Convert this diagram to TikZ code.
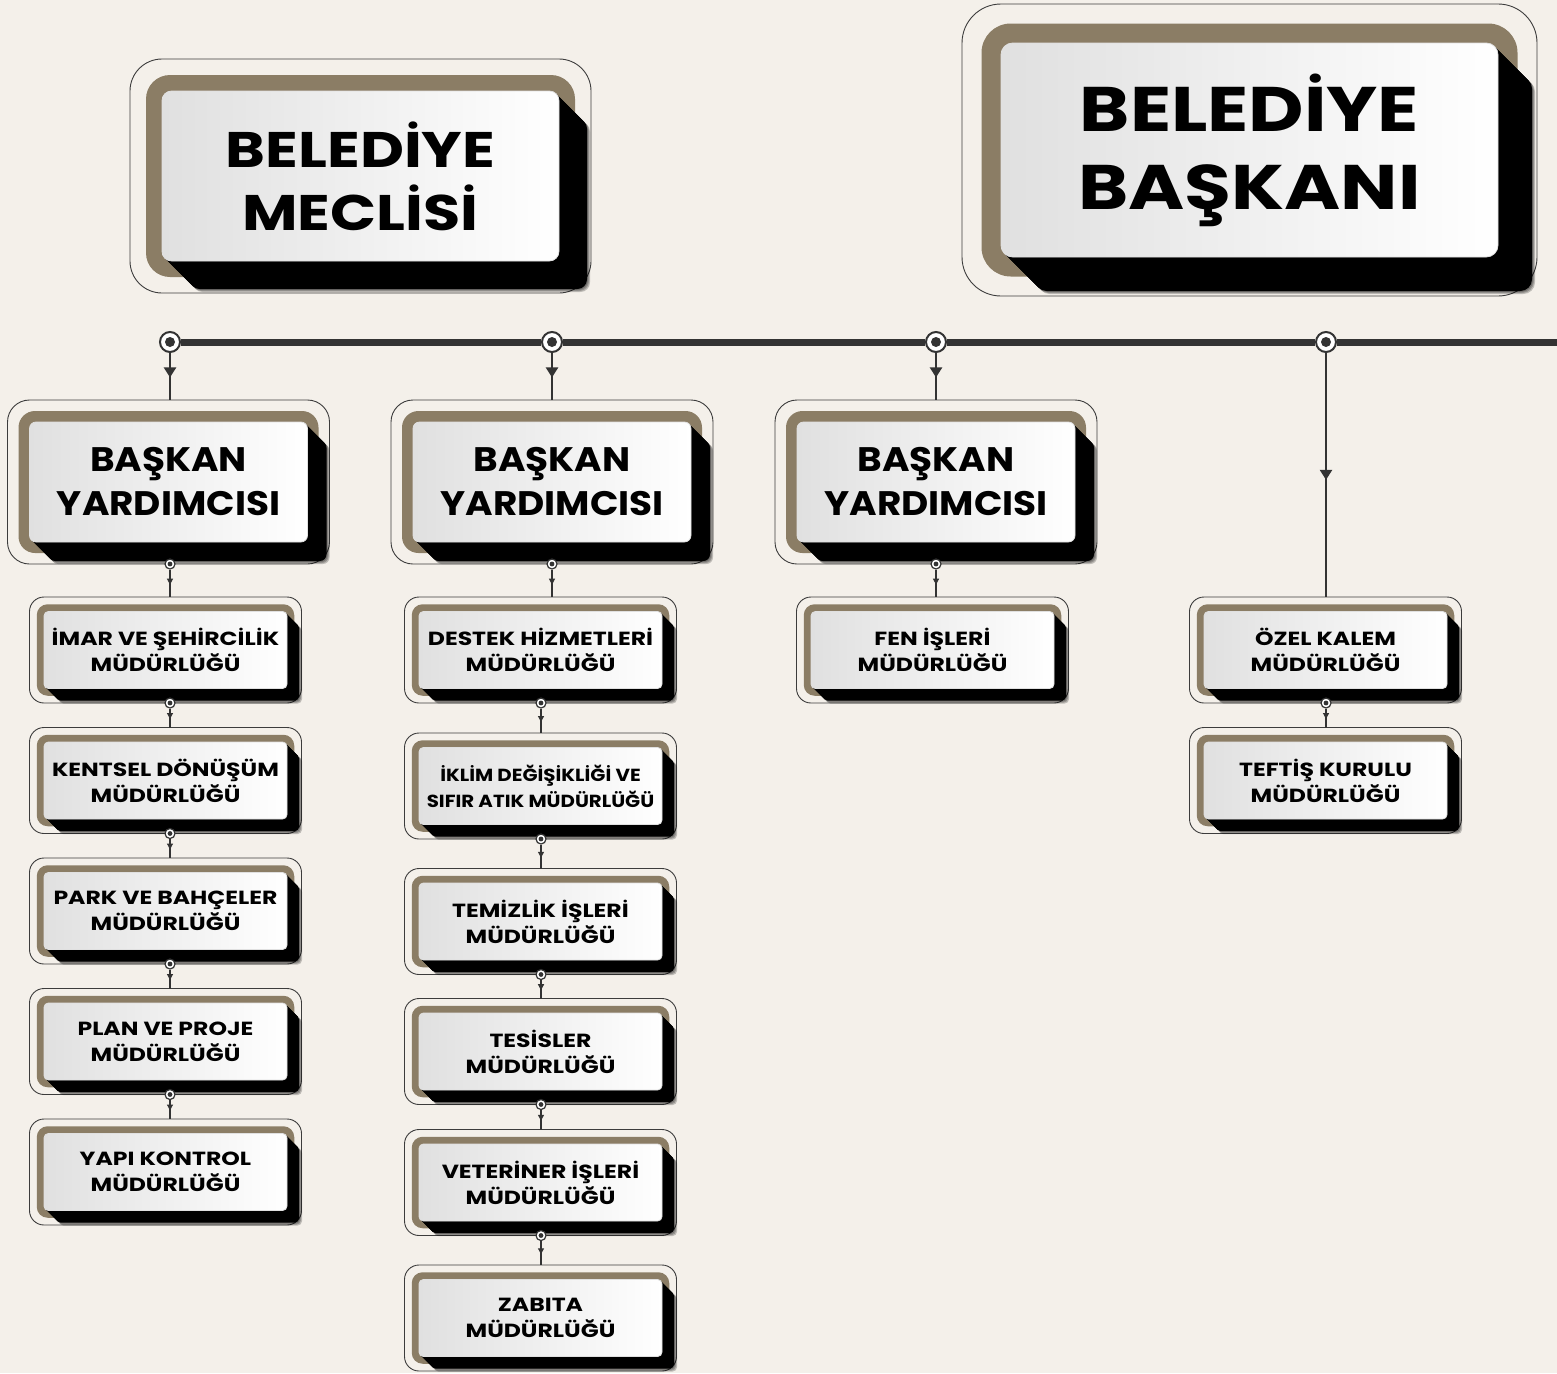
\documentclass[tikz,border=0pt]{standalone}
\usepackage{fontspec}
\setmainfont{Poppins}
\newfontfamily\popA{Poppins}[FakeStretch=1.21]
\newfontfamily\popB{Poppins}[FakeStretch=1.1]
\newfontfamily\popC{Poppins}[FakeStretch=1.24]
\newfontfamily\popD{Poppins}[FakeStretch=1.13]
\usetikzlibrary{arrows.meta,decorations.markings,calc}
\definecolor{bgc}{HTML}{F4F0EA}
\definecolor{brownc}{HTML}{8B7D65}
\definecolor{linec}{HTML}{333333}
\definecolor{outc}{HTML}{3C3C3C}
\definecolor{grayl}{HTML}{E0E0E0}
\newcommand\fhuge{\popA\fontsize{63}{78}\selectfont\bfseries}
\newcommand\fbig{\popA\fontsize{50}{63}\selectfont\bfseries}
\newcommand\fmid{\popB\fontsize{34}{44}\selectfont\bfseries}
\newcommand\fsm{\popC\fontsize{19}{26}\selectfont\bfseries}
\newcommand\fxs{\popD\fontsize{17.5}{26}\selectfont\bfseries}
\tikzset{
  outerbox/.style={rectangle, draw=outc, line width=0.9pt, inner sep=0pt, outer sep=0pt},
  bigdot/.style={circle, draw=linec, fill=white, line width=2pt, minimum size=20pt, inner sep=0pt,
    path picture={\fill[linec] (path picture bounding box.center) circle (5pt);}},
  smalldot/.style={circle, draw=linec, fill=white, line width=1.2pt, minimum size=10pt, inner sep=0pt,
    path picture={\fill[linec] (path picture bounding box.center) circle (2.4pt);}},
  mainline/.style={draw=linec, line width=7pt},
  conn/.style={draw=linec, line width=2.3pt, postaction={decorate},
    decoration={markings, mark=at position 0.52 with {\arrow{Triangle[width=12pt,length=10pt]}}}},
  sconn/.style={draw=linec, line width=1.2pt, postaction={decorate},
    decoration={markings, mark=at position 0.55 with {\arrow{Triangle[width=6pt,length=6pt]}}}},
  boxtext/.style={align=center, text=black, inner sep=0pt}
}
% #1 name, #2 cx, #3 cy, #4 outer w, #5 outer h, #6 margin, #7 font, #8 text
\newcommand\obox[8]{%
  \pgfmathsetmacro\oxBW{#4-2*#6}\pgfmathsetmacro\oxBH{#5-2*#6}%
  \pgfmathsetmacro\oxWW{#4-4*#6}\pgfmathsetmacro\oxWH{#5-4*#6}%
  \pgfmathsetmacro\oxRO{2*#6}\pgfmathsetmacro\oxRB{1.5*#6}\pgfmathsetmacro\oxRW{0.6*#6}%
  \pgfmathsetmacro\oxSD{int(1.75*#6)}%
  \node[outerbox, minimum width=#4pt, minimum height=#5pt, rounded corners=\oxRO pt] (#1) at (#2,#3) {};
  \fill[brownc, rounded corners=\oxRB pt] (#2-\oxBW/2,#3-\oxBH/2) rectangle (#2+\oxBW/2,#3+\oxBH/2);
  \foreach \s in {1,2,3}{
    \fill[black, opacity=0.22, rounded corners=\oxRW pt, shift={(\oxSD+\s,\oxSD+\s)}]
      (#2-\oxWW/2,#3-\oxWH/2) rectangle (#2+\oxWW/2,#3+\oxWH/2);}
  \foreach \s in {1,...,\oxSD}{
    \fill[black, rounded corners=\oxRW pt, shift={(\s,\s)}]
      (#2-\oxWW/2,#3-\oxWH/2) rectangle (#2+\oxWW/2,#3+\oxWH/2);}
  \shade[left color=grayl, right color=white, rounded corners=\oxRW pt, draw=black!12, line width=0.8pt]
    (#2-\oxWW/2,#3-\oxWH/2) rectangle (#2+\oxWW/2,#3+\oxWH/2);
  \node[boxtext, font=#7] (#1-t) at (#2,#3) {#8};
}
\begin{document}
\begin{tikzpicture}[x=1pt, y=-1pt]
\useasboundingbox (0,0) rectangle (1557,1373);
\fill[bgc] (0,0) rectangle (1557,1373);

% top boxes
\obox{meclis}{360.5}{176}{461}{234}{16}{\fbig}{BELEDİYE\\MECLİSİ}
\obox{baskan}{1249.5}{150}{575}{292}{19.5}{\fhuge}{BELEDİYE\\BAŞKANI}

% deputies
\obox{by1}{168.5}{482}{322}{164}{11}{\fmid}{BAŞKAN\\YARDIMCISI}
\obox{by2}{552}{482}{322}{164}{11}{\fmid}{BAŞKAN\\YARDIMCISI}
\obox{by3}{936}{482}{322}{164}{11}{\fmid}{BAŞKAN\\YARDIMCISI}

% column 1
\obox{imar}{165.5}{650}{272}{106}{7.25}{\fsm}{İMAR VE ŞEHİRCİLİK\\MÜDÜRLÜĞÜ}
\obox{kentsel}{165.5}{780.5}{272}{106}{7.25}{\fsm}{KENTSEL DÖNÜŞÜM\\MÜDÜRLÜĞÜ}
\obox{park}{165.5}{911}{272}{106}{7.25}{\fsm}{PARK VE BAHÇELER\\MÜDÜRLÜĞÜ}
\obox{plan}{165.5}{1041.5}{272}{106}{7.25}{\fsm}{PLAN VE PROJE\\MÜDÜRLÜĞÜ}
\obox{yapi}{165.5}{1172}{272}{106}{7.25}{\fsm}{YAPI KONTROL\\MÜDÜRLÜĞÜ}

% column 2
\obox{destek}{540.5}{650}{272}{106}{7.25}{\fsm}{DESTEK HİZMETLERİ\\MÜDÜRLÜĞÜ}
\obox{iklim}{540.5}{786}{272}{106}{7.25}{\fxs}{İKLİM DEĞİŞİKLİĞİ VE\\SIFIR ATIK MÜDÜRLÜĞÜ}
\obox{temizlik}{540.5}{921.5}{272}{106}{7.25}{\fsm}{TEMİZLİK İŞLERİ\\MÜDÜRLÜĞÜ}
\obox{tesisler}{540.5}{1051.5}{272}{106}{7.25}{\fsm}{TESİSLER\\MÜDÜRLÜĞÜ}
\obox{veteriner}{540.5}{1182.5}{272}{106}{7.25}{\fsm}{VETERİNER İŞLERİ\\MÜDÜRLÜĞÜ}
\obox{zabita}{540.5}{1318}{272}{106}{7.25}{\fsm}{ZABITA\\MÜDÜRLÜĞÜ}

% column 3 and 4
\obox{fen}{932.5}{650}{272}{106}{7.25}{\fsm}{FEN İŞLERİ\\MÜDÜRLÜĞÜ}
\obox{ozel}{1325.5}{650}{272}{106}{7.25}{\fsm}{ÖZEL KALEM\\MÜDÜRLÜĞÜ}
\obox{teftis}{1325.5}{780.5}{272}{106}{7.25}{\fsm}{TEFTİŞ KURULU\\MÜDÜRLÜĞÜ}

% main bus
\node[bigdot] (m1) at (170,342) {};
\node[bigdot] (m2) at (552,342) {};
\node[bigdot] (m3) at (936,342) {};
\node[bigdot] (m4) at (1326,342) {};
\coordinate (mend) at (1557,342);
\coordinate (col2s) at (541,0);
\draw[mainline] (m1.east) -- (m2.west);
\draw[mainline] (m2.east) -- (m3.west);
\draw[mainline] (m3.east) -- (m4.west);
\draw[mainline] (m4.east) -- (mend);

\draw[conn] (m1.south) -- (m1.south |- by1.north);
\draw[conn] (m2.south) -- (m2.south |- by2.north);
\draw[conn] (m3.south) -- (m3.south |- by3.north);
\draw[conn] (m4.south) -- (m4.south |- ozel.north);

% column 1 chain
\node[smalldot] (d1a) at (by1.south -| m1) {};
\node[smalldot] (d1b) at (imar.south -| m1) {};
\node[smalldot] (d1c) at (kentsel.south -| m1) {};
\node[smalldot] (d1d) at (park.south -| m1) {};
\node[smalldot] (d1e) at (plan.south -| m1) {};
\draw[sconn] (d1a.south) -- (d1a.south |- imar.north);
\draw[sconn] (d1b.south) -- (d1b.south |- kentsel.north);
\draw[sconn] (d1c.south) -- (d1c.south |- park.north);
\draw[sconn] (d1d.south) -- (d1d.south |- plan.north);
\draw[sconn] (d1e.south) -- (d1e.south |- yapi.north);

% column 2 chain
\node[smalldot] (d2a) at (by2.south -| m2) {};
\node[smalldot] (d2b) at (destek.south -| col2s) {};
\node[smalldot] (d2c) at (iklim.south -| col2s) {};
\node[smalldot] (d2d) at (temizlik.south -| col2s) {};
\node[smalldot] (d2e) at (tesisler.south -| col2s) {};
\node[smalldot] (d2f) at (veteriner.south -| col2s) {};
\draw[sconn] (d2a.south) -- (d2a.south |- destek.north);
\draw[sconn] (d2b.south) -- (d2b.south |- iklim.north);
\draw[sconn] (d2c.south) -- (d2c.south |- temizlik.north);
\draw[sconn] (d2d.south) -- (d2d.south |- tesisler.north);
\draw[sconn] (d2e.south) -- (d2e.south |- veteriner.north);
\draw[sconn] (d2f.south) -- (d2f.south |- zabita.north);

% column 3 and 4 chains
\node[smalldot] (d3a) at (by3.south -| m3) {};
\draw[sconn] (d3a.south) -- (d3a.south |- fen.north);
\node[smalldot] (d4a) at (ozel.south -| m4) {};
\draw[sconn] (d4a.south) -- (d4a.south |- teftis.north);
\end{tikzpicture}
\end{document}
